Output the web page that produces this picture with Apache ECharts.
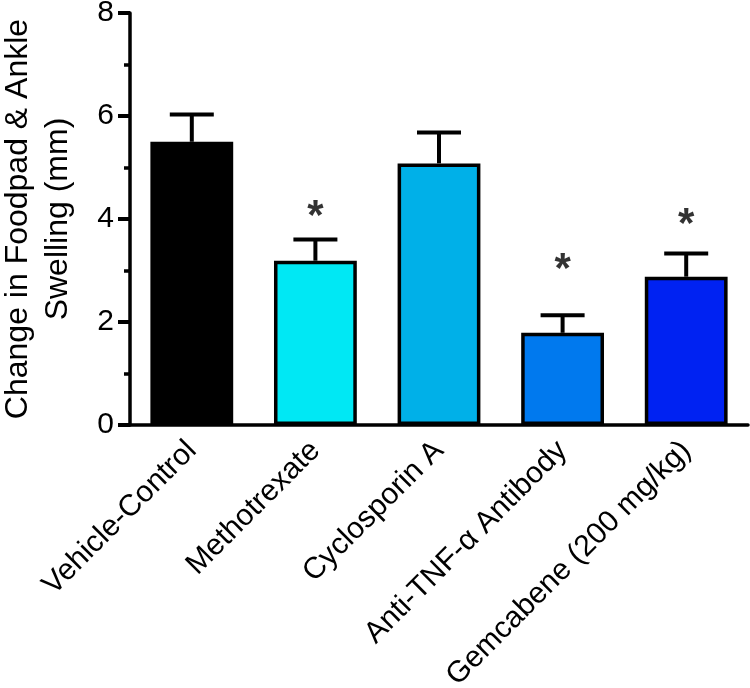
<!DOCTYPE html>
<html>
<head>
<meta charset="utf-8">
<script src="https://cdn.jsdelivr.net/npm/echarts@6/dist/echarts.min.js"></script>
<style>
  html, body { margin: 0; padding: 0; background: #fff; }
  #chart { width: 750px; height: 688px; }
</style>
</head>
<body>
<div id="chart"></div>
<script>
// groups, means and upper error (mean + SEM)
var groups = ['Vehicle-Control', 'Methotrexate', 'Cyclosporin A', 'Anti-TNF-\u03b1 Antibody', 'Gemcabene (200 mg/kg)'];
var means = [5.5, 3.19, 5.08, 1.79, 2.88];
var upper = [6.03, 3.6, 5.68, 2.13, 3.33];
var barColors = ['#000000', '#00e8f4', '#00b0e8', '#0079ee', '#0022f2'];
// significance marks: [group index, height]
var stars = [[1, 4.2], [3, 3.17], [4, 4.05]];

var chart = echarts.init(document.getElementById('chart'));
var font = '"Liberation Sans", Arial, sans-serif';

var option = {
    backgroundColor: '#fff',
    animation: false,
    grid: {
        left: 130,
        right: 2,
        top: 13,
        bottom: 263,
        containLabel: false,
        outerBoundsMode: 'none'
    },
    xAxis: {
        type: 'category',
        data: groups,
        axisLine: { lineStyle: { color: '#000', width: 3.5 } },
        axisTick: { alignWithLabel: true, length: 12, lineStyle: { color: '#000', width: 4 } },
        axisLabel: {
            interval: 0,
            rotate: 45,
            margin: 21,
            color: '#000',
            fontSize: 30,
            fontFamily: font
        }
    },
    yAxis: {
        type: 'value',
        min: 0,
        max: 8,
        interval: 2,
        name: 'Change in Foodpad & Ankle\nSwelling (mm)',
        nameLocation: 'middle',
        nameGap: 52,
        nameTextStyle: { color: '#000', fontSize: 32, lineHeight: 40, fontFamily: font },
        axisLine: { show: true, lineStyle: { color: '#000', width: 3.5 } },
        axisTick: { show: true, length: 12, lineStyle: { color: '#000', width: 4 } },
        minorTick: { show: true, splitNumber: 2, length: 6, lineStyle: { color: '#000', width: 3.5 } },
        splitLine: { show: false },
        axisLabel: { color: '#000', fontSize: 30, margin: 16, fontFamily: font }
    },
    series: [
        {
            type: 'bar',
            barWidth: '67%',
            data: means.map(function (v, i) {
                return { value: v, itemStyle: { color: barColors[i] } };
            }),
            itemStyle: { borderColor: '#000', borderWidth: 3.5 },
            z: 2
        },
        {
            type: 'custom',
            data: means.map(function (v, i) { return [i, v, upper[i]]; }),
            renderItem: function (params, api) {
                var base = api.coord([api.value(0), api.value(1)]);
                var top = api.coord([api.value(0), api.value(2)]);
                var half = 22;
                var style = { stroke: '#000', lineWidth: 4 };
                return {
                    type: 'group',
                    children: [
                        { type: 'line', shape: { x1: base[0], y1: base[1], x2: top[0], y2: top[1] }, style: style },
                        { type: 'line', shape: { x1: top[0] - half, y1: top[1], x2: top[0] + half, y2: top[1] }, style: style }
                    ]
                };
            },
            z: 3
        },
        {
            type: 'scatter',
            data: stars,
            symbolSize: 0,
            label: {
                show: true,
                formatter: '*',
                position: 'inside',
                offset: [0, 9],
                color: '#000',
                fontSize: 42,
                fontWeight: 'bold',
                fontFamily: font
            },
            z: 4
        }
    ]
};

chart.setOption(option);
</script>
</body>
</html>
